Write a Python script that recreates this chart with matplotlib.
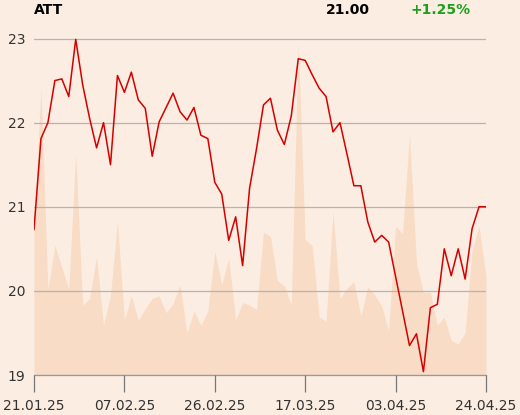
import numpy as np
import matplotlib.pyplot as plt

# closing prices, one per trading day (21.01.25 .. 24.04.25)
price = [20.73, 21.81, 22.00, 22.50, 22.52, 22.31, 22.99, 22.45, 22.05, 21.70,
         22.00, 21.50, 22.56, 22.36, 22.60, 22.27, 22.17, 21.60, 22.01, 22.18,
         22.35, 22.13, 22.03, 22.18, 21.85, 21.81, 21.29, 21.15, 20.60, 20.88,
         20.30, 21.22, 21.69, 22.21, 22.29, 21.91, 21.74, 22.08, 22.76, 22.74,
         22.57, 22.41, 22.31, 21.89, 22.00, 21.63, 21.25, 21.25, 20.82, 20.58,
         20.66, 20.58, 20.17, 19.76, 19.35, 19.49, 19.04, 19.80, 19.84, 20.50,
         20.18, 20.50, 20.14, 20.74, 21.00, 21.00]

# traded volume (relative units, drawn behind the price line)
volume = [1.75, 3.41, 1.01, 1.54, 1.28, 1.02, 2.63, 0.83, 0.91, 1.41,
          0.59, 0.95, 1.83, 0.65, 0.94, 0.65, 0.79, 0.91, 0.94, 0.74,
          0.85, 1.07, 0.50, 0.76, 0.59, 0.76, 1.47, 1.07, 1.39, 0.65,
          0.86, 0.83, 0.78, 1.70, 1.65, 1.12, 1.06, 0.83, 3.94, 1.61,
          1.54, 0.69, 0.64, 1.94, 0.91, 1.03, 1.11, 0.70, 1.05, 0.95,
          0.82, 0.53, 1.77, 1.68, 2.86, 1.33, 0.98, 0.98, 0.59, 0.69,
          0.41, 0.37, 0.50, 1.49, 1.77, 1.17]

tick_idx = [0, 13, 26, 39, 52, 65]
tick_labels = ['21.01.25', '07.02.25', '26.02.25', '17.03.25', '03.04.25', '24.04.25']

name = 'ATT'
last = '21.00'
change = '+1.25%'

bg = '#FBEDE1'
x = np.arange(len(price))
ymin, ymax = 19, 23

fig = plt.figure(figsize=(5.2, 4.15), dpi=100, facecolor=bg)
ax = fig.add_axes([34 / 520, 1 - 375 / 415, 452 / 520, 336.5 / 415])
ax.set_facecolor(bg)

vol_top = ymin + np.array(volume)
ax.fill_between(x, ymin, vol_top, color='#F8DCC6', lw=0, zorder=1)
ax.plot(x, price, color='#D40000', lw=1.1, zorder=3)

ax.set_xlim(0, len(price) - 1)
ax.set_ylim(ymin, ymax)
ax.set_yticks([19, 20, 21, 22, 23])
ax.yaxis.grid(True, color='#B4B4B4', lw=0.9, zorder=2)
ax.set_axisbelow(False)
ax.tick_params(axis='y', length=0, pad=6, labelsize=10, labelcolor='#333333')

ax.set_xticks(tick_idx)
ax.set_xticklabels(tick_labels)
ax.tick_params(axis='x', length=12, width=0.9, color='#777777', pad=5,
               labelsize=10, labelcolor='#333333')

for s in ['left', 'right', 'top']:
    ax.spines[s].set_visible(False)
ax.spines['bottom'].set_color('#999999')
ax.spines['bottom'].set_linewidth(0.9)

fig.text(34 / 520, 1 - 10 / 415, name, fontsize=10, fontweight='bold',
         color='black', va='center', ha='left')
fig.text(370 / 520, 1 - 10 / 415, last, fontsize=10, fontweight='bold',
         color='black', va='center', ha='right')
fig.text(411 / 520, 1 - 10 / 415, change, fontsize=10, fontweight='bold',
         color='#1AA01A', va='center', ha='left')

fig.savefig('out.png', dpi=100, facecolor=bg)
